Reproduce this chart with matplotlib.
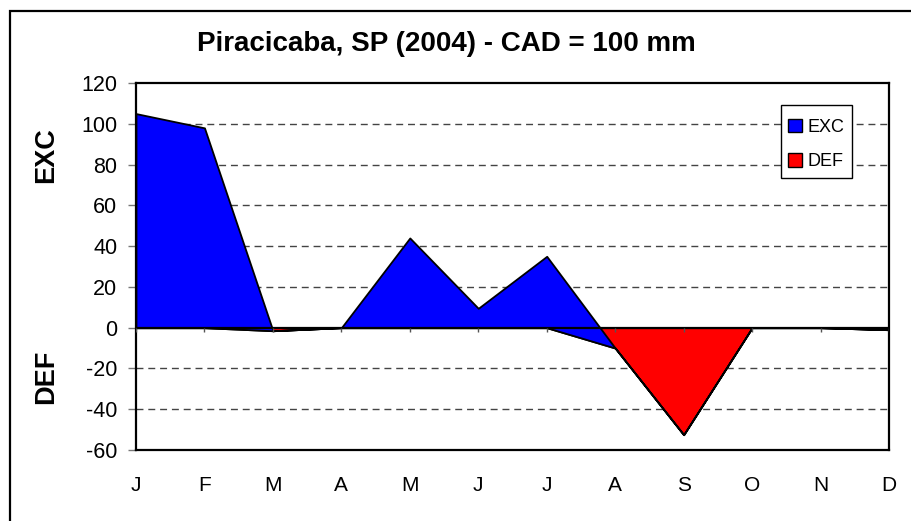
# Balanço hídrico - Piracicaba, SP (2004)
# Excedente (EXC) e deficiência (DEF) mensais, CAD = 100 mm

import numpy as np
import matplotlib.pyplot as plt
from matplotlib.patches import Patch, Rectangle

plt.rcParams["font.family"] = ["Liberation Sans", "DejaVu Sans"]
plt.rcParams["axes.unicode_minus"] = False

# -------------------------
# Dados
# -------------------------
meses = ["J", "F", "M", "A", "M", "J", "J", "A", "S", "O", "N", "D"]
exc = [105, 98, 0, 0, 44, 9.5, 35, 0, 0, 0, 0, 0]
deficit = [0, 0, -1.5, 0, 0, 0, 0, -10, -52.5, 0, 0, -1]

x = np.arange(len(meses))
exc_arr = np.array(exc)
def_arr = np.array(deficit)
topo = def_arr + exc_arr  # area empilhada: EXC sobre DEF

# -------------------------
# Figura
# -------------------------
fig = plt.figure(figsize=(9.11, 5.21), dpi=100)
ax = fig.add_axes([136 / 911, 1 - 450 / 521, (889 - 136) / 911, (450 - 83) / 521])

# moldura externa
fig.patches.append(Rectangle((10 / 911, -0.1), 1.2, 1 - 11 / 521 + 0.1,
                             transform=fig.transFigure, fill=False,
                             edgecolor="black", linewidth=1.6))

# areas
ax.fill_between(x, 0, def_arr, facecolor="#FF0000", edgecolor="black",
                linewidth=1.3, zorder=2)
ax.fill_between(x, def_arr, topo, facecolor="#0000FF", edgecolor="black",
                linewidth=1.3, zorder=3)

# eixo das categorias em zero, com marcas
ax.axhline(0, color="black", linewidth=1.6, zorder=4)
ax.vlines(x, -2.3, 0, color="#555555", linewidth=1, zorder=4)

# grade
for g in [100, 80, 60, 40, 20, -20, -40]:
    ax.axhline(g, color="#444444", linewidth=1, linestyle=(0, (5, 3.5)), zorder=1)

ax.set_xlim(0, 11)
ax.set_ylim(-60, 120)
ax.set_yticks(np.arange(-60, 121, 20))
ax.set_xticks(x, meses)
ax.tick_params(axis="y", length=5.5, width=1, color="#777777", pad=8, labelsize=15.5)
ax.tick_params(axis="x", length=0, pad=19, labelsize=15)

for s in ax.spines.values():
    s.set_linewidth(1.6)
    s.set_color("black")

# titulo e rotulos
fig.text(446 / 911, 1 - 51 / 521, "Piracicaba, SP (2004) - CAD = 100 mm",
         ha="center", va="baseline", fontsize=20, fontweight="bold")
fig.text(46 / 911, 1 - 155 / 521, "EXC", rotation=90, ha="center", va="center",
         fontsize=19.5, fontweight="bold")
fig.text(46 / 911, 1 - 377 / 521, "DEF", rotation=90, ha="center", va="center",
         fontsize=19.5, fontweight="bold")

# caixa da legenda
fig.patches.append(Rectangle((781 / 911, 1 - 178 / 521), 71 / 911, 73 / 521,
                             transform=fig.transFigure, facecolor="white",
                             edgecolor="black", linewidth=1, zorder=4))

handles = [Patch(facecolor="#0000FF", edgecolor="black", label="EXC"),
           Patch(facecolor="#FF0000", edgecolor="black", label="DEF")]
leg = fig.legend(handles=handles, loc="upper left",
                 bbox_to_anchor=(774.5 / 911, 1 - 105 / 521),
                 bbox_transform=fig.transFigure, borderaxespad=0,
                 fontsize=13, handlelength=0.8, handleheight=0.8,
                 handletextpad=0.3, labelspacing=0.95, borderpad=0.75,
                 frameon=False)
leg.set_zorder(5)

fig.savefig("out.png", dpi=100)
